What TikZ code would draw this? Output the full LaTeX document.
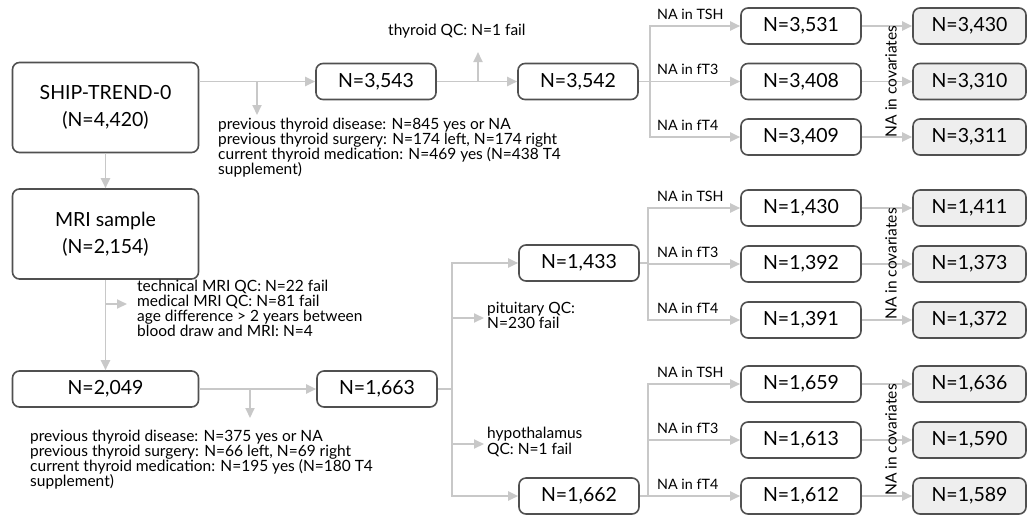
\documentclass[tikz,border=0pt]{standalone}
\usepackage{fontspec}
\setmainfont{Lato}
\usetikzlibrary{arrows.meta}
\definecolor{boxline}{HTML}{505050}
\definecolor{arrowgray}{HTML}{C8C8C8}
\definecolor{finalfill}{HTML}{EEEEEE}
\newcommand\firstline{\rule{0pt}{12pt}}
\begin{document}
\begin{tikzpicture}[x=1pt,y=-1pt,
  box/.style={draw=boxline, line width=1.6pt, rounded corners=7pt, minimum width=120pt, minimum height=36pt, inner sep=0pt, font=\fontsize{19.5}{24}\selectfont},
  bigbox/.style={box, minimum width=186pt, minimum height=90pt, align=center, font=\fontsize{19.5}{27}\selectfont},
  final/.style={box, fill=finalfill, minimum width=113pt},
  conn/.style={draw=arrowgray, line width=1.9pt},
  arr/.style={conn, -{Triangle[length=10pt,width=9pt]}},
  note/.style={font=\fontsize{15.5}{15}\selectfont, align=left, inner sep=0pt, anchor=north west},
  lab/.style={font=\fontsize{14.3}{16}\selectfont, inner sep=0pt, anchor=base west},
  cov/.style={font=\fontsize{15.5}{16}\selectfont, inner sep=0pt, rotate=90}
]
\useasboundingbox (0,0) rectangle (1027,515);

% left column
\node[bigbox] (ship) at (105.5,107.5) {SHIP-TREND-0\\(N=4,420)};
\node[bigbox] (mri) at (105.5,234) {MRI sample\\(N=2,154)};
\node[box, minimum width=186pt] (n2049) at (105.5,389) {N=2,049};

% top branch
\node[box] (n3543) at (376,81.5) {N=3,543};
\node[box] (n3542) at (578,81.5) {N=3,542};
\node[box] (t1) at (801,26) {N=3,531};
\node[box] (t2) at (801,81.5) {N=3,408};
\node[box] (t3) at (801,137) {N=3,409};
\node[final] (f1) at (969.5,26) {N=3,430};
\node[final] (f2) at (969.5,81.5) {N=3,310};
\node[final] (f3) at (969.5,137) {N=3,311};

% middle branch
\node[box] (n1663) at (377,389) {N=1,663};
\node[box] (m0) at (579,263) {N=1,433};
\node[box] (m1) at (801,208) {N=1,430};
\node[box] (m2) at (801,264) {N=1,392};
\node[box] (m3) at (801,320) {N=1,391};
\node[final] (g1) at (969.5,208) {N=1,411};
\node[final] (g2) at (969.5,264) {N=1,373};
\node[final] (g3) at (969.5,320) {N=1,372};

% bottom branch
\node[box] (n1662) at (579,496) {N=1,662};
\node[box] (b1) at (801,384) {N=1,659};
\node[box] (b2) at (801,440) {N=1,613};
\node[box] (b3) at (801,496) {N=1,612};
\node[final] (h1) at (969.5,384) {N=1,636};
\node[final] (h2) at (969.5,440) {N=1,590};
\node[final] (h3) at (969.5,496) {N=1,589};

% notes
\node[note] (note1) at (218,117) {\firstline previous thyroid disease: N=845 yes or NA\\previous thyroid surgery: N=174 left, N=174 right\\current thyroid medication: N=469 yes (N=438 T4\\supplement)};
\node[note] (note2) at (137,279) {\firstline technical MRI QC: N=22 fail\\medical MRI QC: N=81 fail\\age difference > 2 years between\\blood draw and MRI: N=4};
\node[note] (note3) at (30,429) {\firstline previous thyroid disease: N=375 yes or NA\\previous thyroid surgery: N=66 left, N=69 right\\current thyroid medication: N=195 yes (N=180 T4\\supplement)};
\node[note, anchor=base west] (qc) at (388,35) {thyroid QC: N=1 fail};
\node[note] (pit) at (487,301) {\firstline pituitary QC:\\N=230 fail};
\node[note, font=\fontsize{15.5}{16}\selectfont] (hyp) at (487,426) {\firstline hypothalamus\\QC: N=1 fail};

% coordinates
\coordinate (s1) at (257,81.5);
\coordinate (s1e) at (257,115);
\coordinate (q1) at (478,81.5);
\coordinate (q1e) at (478,52);
\coordinate (sp1) at (650,81.5);
\coordinate (s3) at (105.5,304);
\coordinate (s3e) at (127,304);
\coordinate (s4) at (250,389);
\coordinate (s4e) at (250,418);
\coordinate (sp2) at (452,389);
\coordinate (p1) at (452,318);
\coordinate (p1e) at (484,318);
\coordinate (p2) at (452,444);
\coordinate (p2e) at (484,444);
\coordinate (sp3) at (648,263);
\coordinate (sp4) at (648,496);

% connectors left column
\draw[arr] (ship.south) -- (mri.north);
\draw[arr] (mri.south) -- (n2049.north);
\draw[arr] (s3) -- (s3e);

% top
\draw[arr] (ship.east |- n3543.west) -- (n3543.west);
\draw[arr] (s1) -- (s1e);
\draw[arr] (n3543.east) -- (n3542.west);
\draw[arr] (q1) -- (q1e);
\draw[conn] (n3542.east) -- (sp1);
\draw[arr] (sp1) |- (t1.west);
\draw[arr] (sp1) -- (t2.west);
\draw[arr] (sp1) |- (t3.west);
\draw[arr] (t1.east) -- (f1.west);
\draw[arr] (t2.east) -- (f2.west);
\draw[arr] (t3.east) -- (f3.west);

% lower
\draw[arr] (n2049.east) -- (n1663.west);
\draw[arr] (s4) -- (s4e);
\draw[conn] (n1663.east) -- (sp2);
\draw[arr] (sp2) |- (m0.west);
\draw[arr] (sp2) |- (n1662.west);
\draw[arr] (p1) -- (p1e);
\draw[arr] (p2) -- (p2e);

\draw[conn] (m0.east) -- (sp3);
\draw[arr] (sp3) |- (m1.west);
\draw[arr] (sp3) |- (m2.west);
\draw[arr] (sp3) |- (m3.west);
\draw[arr] (m1.east) -- (g1.west);
\draw[arr] (m2.east) -- (g2.west);
\draw[arr] (m3.east) -- (g3.west);

\draw[conn] (n1662.east) -- (sp4);
\draw[arr] (sp4) |- (b1.west);
\draw[arr] (sp4) |- (b2.west);
\draw[arr] (sp4) -- (b3.west);
\draw[arr] (b1.east) -- (h1.west);
\draw[arr] (b2.east) -- (h2.west);
\draw[arr] (b3.east) -- (h3.west);

% labels
\node[lab] (lt1) at (657,19) {NA in TSH};
\node[lab] (lt2) at (657,74.5) {NA in fT3};
\node[lab] (lt3) at (657,130) {NA in fT4};
\node[lab] (lm1) at (657,201) {NA in TSH};
\node[lab] (lm2) at (657,257) {NA in fT3};
\node[lab] (lm3) at (657,313) {NA in fT4};
\node[lab] (lb1) at (657,377) {NA in TSH};
\node[lab] (lb2) at (657,433) {NA in fT3};
\node[lab] (lb3) at (657,489) {NA in fT4};
\node[cov] (c1) at (891,81.5) {NA in covariates};
\node[cov] (c2) at (891,264) {NA in covariates};
\node[cov] (c3) at (891,440) {NA in covariates};
\end{tikzpicture}
\end{document}
